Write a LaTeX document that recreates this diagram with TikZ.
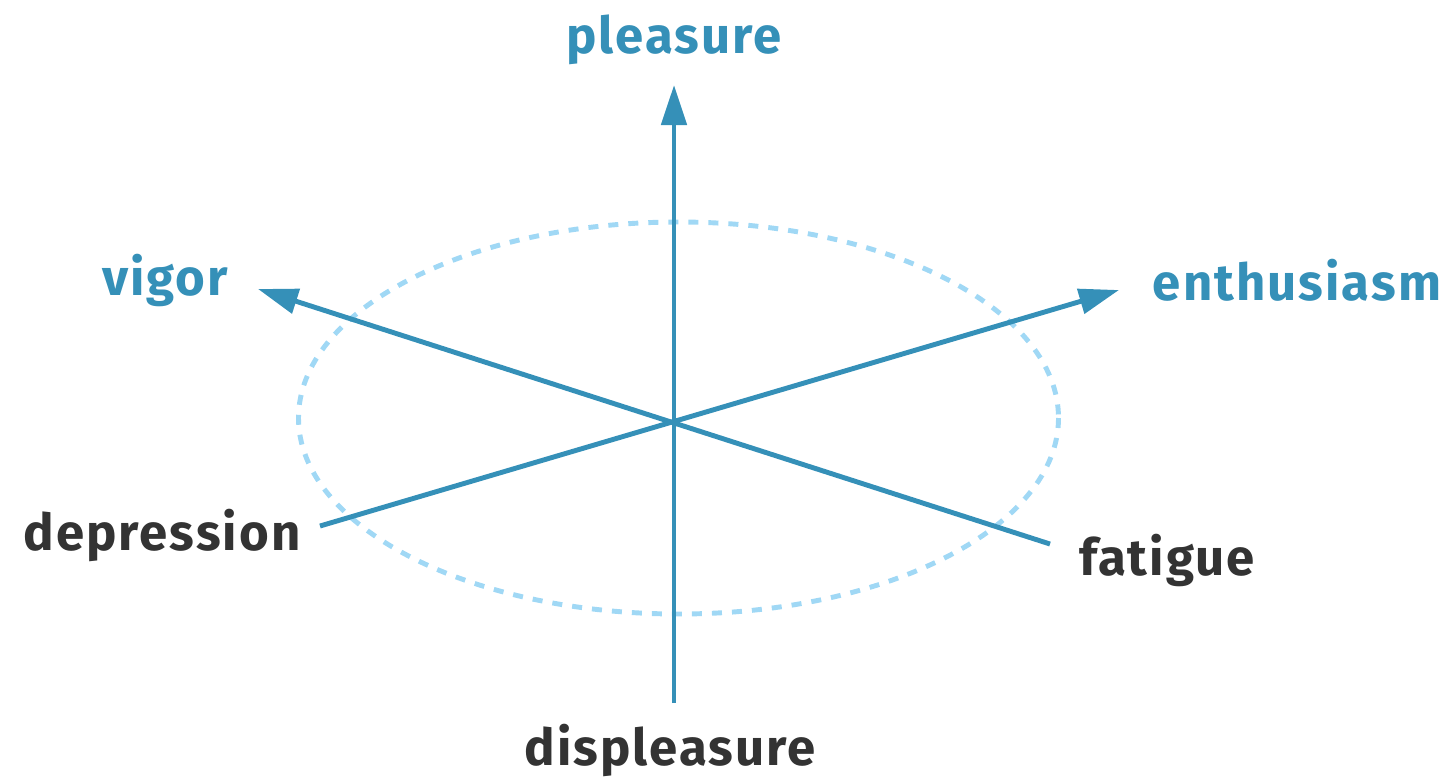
\documentclass[tikz,border=0pt]{standalone}
\usepackage{fontspec}
\setmainfont{Fira Sans}[LetterSpace=4]
\usetikzlibrary{arrows.meta}
\definecolor{axisblue}{RGB}{53,144,184}
\definecolor{ringblue}{RGB}{160,216,245}
\definecolor{darktext}{RGB}{51,51,51}
\tikzset{
    axis/.style={
           draw=axisblue,
           line width=2.8pt,
           },
    axisarrow/.style={
           axis,
           -{Triangle[length=0.8cm, width=0.5cm]},
           },
    ring/.style={
           draw=ringblue,
           line width=2.8pt,
           dash pattern=on 5.7pt off 5.7pt,
           },
    pole/.style={
           font=\fontsize{29}{34}\selectfont\bfseries,
           inner sep=0pt,
           },
}
\begin{document}
\begin{tikzpicture}[x=0.02cm, y=-0.02cm]
      \useasboundingbox (0,0) rectangle (1453,779);
      % ring of moods
      \draw[ring] (678.5,418) ellipse [x radius=380, y radius=196];
      % ends of the axes
      \coordinate (O)  at (675, 422);
      \coordinate (Pt) at (674,  85);
      \coordinate (Pb) at (674, 703);
      \coordinate (Vt) at (258, 289);
      \coordinate (Fb) at (1050, 544);
      \coordinate (Et) at (1119, 290);
      \coordinate (Db) at (320, 526);
      \draw[axisarrow] (Pb) -- (Pt);
      \draw[axisarrow] (Fb) -- (Vt);
      \draw[axisarrow] (Db) -- (Et);
      % labels
      \node[pole, axisblue] (pleasure)    at (674,  40) {pleasure};
      \node[pole, axisblue] (vigor)       at (165, 280) {vigor};
      \node[pole, axisblue] (enthusiasm)  at (1297, 280) {enthusiasm};
      \node[pole, darktext] (depression)  at (162, 535) {depression};
      \node[pole, darktext] (fatigue)     at (1167, 560) {fatigue};
      \node[pole, darktext] (displeasure) at (670, 750) {displeasure};
\end{tikzpicture}
\end{document}
